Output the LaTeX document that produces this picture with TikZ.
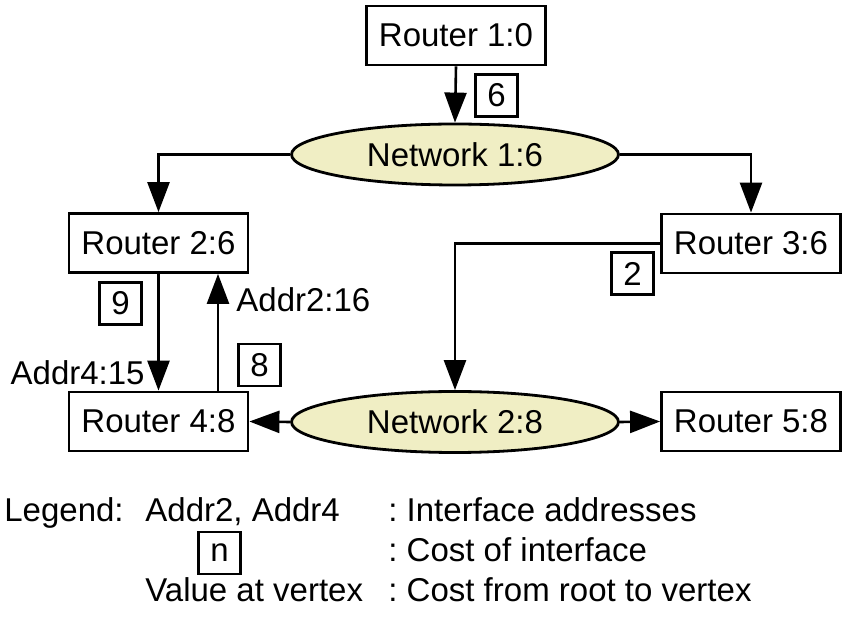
\documentclass[tikz,border=0pt]{standalone}
\usepackage{fontspec}
\setmainfont{Liberation Sans}
\usetikzlibrary{arrows.meta,shapes.geometric}
\definecolor{netfill}{RGB}{240,238,196}
\frenchspacing
\tikzset{
  router/.style={draw,line width=1.4pt,minimum width=89.5pt,minimum height=29.5pt,inner sep=0pt},
  network/.style={ellipse,draw,line width=1.4pt,fill=netfill,minimum width=163.5pt,minimum height=30.5pt,inner sep=0pt},
  cost/.style={draw,line width=1.3pt,minimum size=21pt,inner sep=0pt},
  link/.style={line width=1.3pt,-{Triangle[length=15pt,width=11pt]}},
  legtext/.style={anchor=base west,inner sep=0pt}
}

\begin{document}
\begin{tikzpicture}[x=0.5pt,y=-0.5pt,font=\fontsize{16.5}{20}\selectfont]
  \useasboundingbox (0,0) rectangle (847,625);

  \node[router] (r1) at (456,35.5) {Router 1:0};
  \node[network] (n1) at (455,154.5) {Network 1:6};
  \node[router] (r2) at (158.5,243) {Router 2:6};
  \node[router] (r3) at (751,243.5) {Router 3:6};
  \node[router] (r4) at (158.5,421.5) {Router 4:8};
  \node[network] (n2) at (455,422) {Network 2:8};
  \node[router] (r5) at (751,421.5) {Router 5:8};

  \node[cost] (c6) at (496.5,95.5) {6};
  \node[cost] (c2) at (632.5,273.5) {2};
  \node[cost] (c9) at (120.5,303.5) {9};
  \node[cost] (c8) at (259.5,365) {8};
  \node[anchor=west,inner sep=0pt] (a2) at (236,300) {Addr2:16};
  \node[anchor=east,inner sep=0pt] (a4) at (145,373) {Addr4:15};

  \draw[link] (r1.south) -- (n1.north);
  \draw[link] (n1.west) -| (r2.north);
  \draw[link] (n1.east) -| (r3.north);
  \draw[link] (r2.south) -- (r4.north);
  \draw[link] ([xshift=29.75pt]r4.north) -- ([xshift=29.75pt]r2.south);
  \draw[link] (r3.west) -| (n2.north);
  \draw[link] (n2.west) -- (r4.east);
  \draw[link] (n2.east) -- (r5.west);

  % legend
  \node[legtext] (leg) at (4,522) {Legend:};
  \node[legtext] (legaddr) at (145,522) {Addr2, Addr4};
  \node[legtext] (legaddrtxt) at (388,522) {: Interface addresses};
  \node[cost] (legcost) at (219.5,553) {n};
  \node[legtext] (legcosttxt) at (388,562) {: Cost of interface};
  \node[legtext] (legval) at (145,602) {Value at vertex};
  \node[legtext] (legvaltxt) at (388,602) {: Cost from root to vertex};
\end{tikzpicture}
\end{document}
